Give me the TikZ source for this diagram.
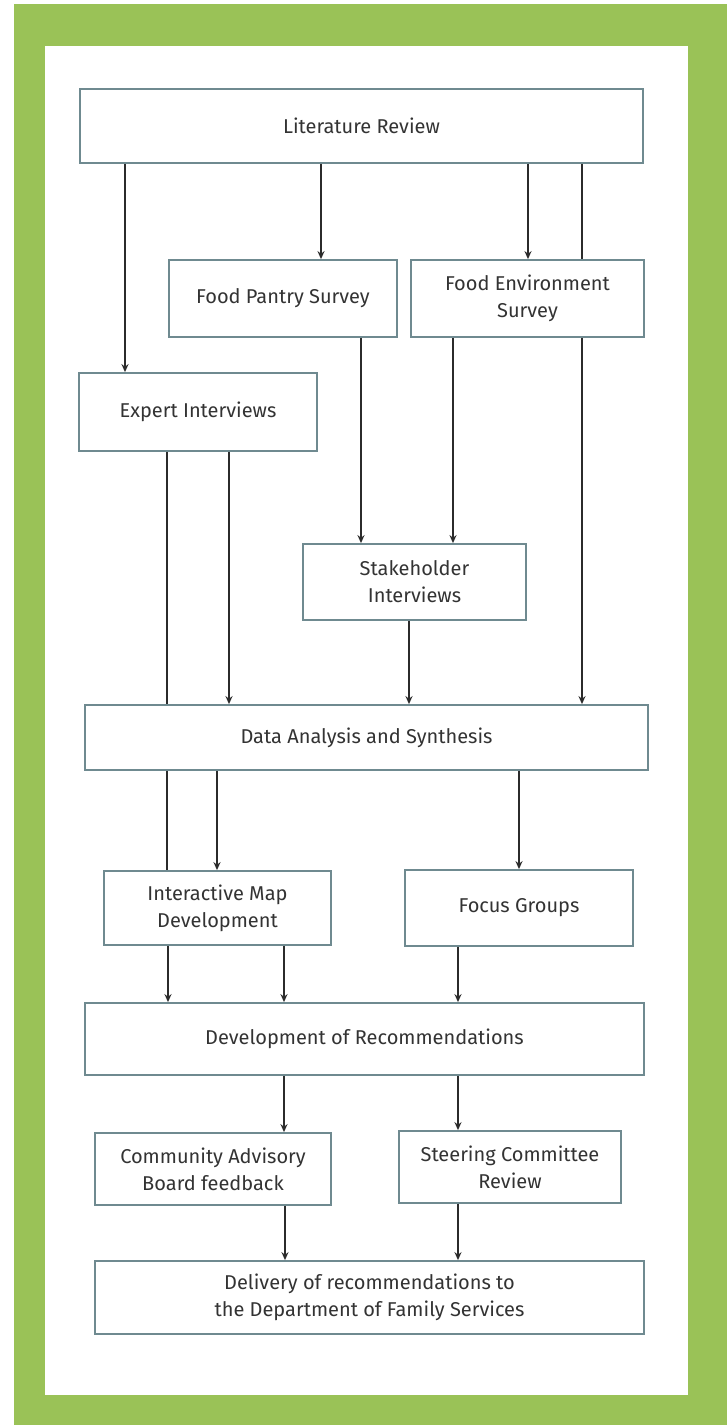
\documentclass[tikz,border=0pt]{standalone}
\usepackage{fontspec}
\setmainfont{Fira Sans}
\usepackage{xcolor}
\definecolor{leaf}{HTML}{9AC257}
\definecolor{frame}{HTML}{6F8A90}
\definecolor{ink}{HTML}{333333}
\definecolor{wire}{HTML}{2B2B2B}
\usepackage{tikz}
\usetikzlibrary{arrows.meta}
\tikzset{
  >={Stealth[length=8pt,width=7pt]},
  stepbox/.style={draw=frame,fill=white,line width=1.8pt,text=ink,
                  font=\fontsize{20}{27}\selectfont,align=center,
                  inner sep=0pt},
  flow/.style   ={->,draw=wire,line width=1.8pt},
  link/.style   ={draw=wire,line width=1.8pt},
}

\begin{document}
\begin{tikzpicture}[x=1pt,y=-1pt]
% frame
\useasboundingbox (0,0) rectangle (727,1425);
\fill[white] (0,0) rectangle (727,1425);
\fill[leaf] (14,4) rectangle (727,1425);
\fill[white] (45,46) rectangle (688,1395);
% boxes
\node[stepbox,minimum width=563pt,minimum height=74pt] (lit)    at (361.5,126)  {Literature Review};
\node[stepbox,minimum width=228pt,minimum height=77pt] (pantry) at (283,298.5)  {Food Pantry Survey};
\node[stepbox,minimum width=233pt,minimum height=77pt] (env)    at (527.5,298.5){Food Environment\\Survey};
\node[stepbox,minimum width=238pt,minimum height=78pt] (expert) at (198,412)    {Expert Interviews};
\node[stepbox,minimum width=223pt,minimum height=76pt] (stake)  at (414.5,582)  {Stakeholder\\Interviews};
\node[stepbox,minimum width=563pt,minimum height=65pt] (data)   at (366.5,737.5){Data Analysis and Synthesis};
\node[stepbox,minimum width=227pt,minimum height=74pt] (map)    at (217.5,908)  {Interactive Map\\Development};
\node[stepbox,minimum width=228pt,minimum height=76pt] (focus)  at (519,908)    {Focus Groups};
\node[stepbox,minimum width=559pt,minimum height=72pt] (recs)   at (364.5,1039) {Development of Recommendations};
\node[stepbox,minimum width=236pt,minimum height=72pt] (cab)    at (213,1169)   {Community Advisory\\Board feedback};
\node[stepbox,minimum width=222pt,minimum height=72pt] (steer)  at (510,1167)   {Steering Committee\\Review};
\node[stepbox,minimum width=549pt,minimum height=73pt] (deliv)  at (369.5,1297.5){Delivery of recommendations to\\the Department of Family Services};
% arrows
\foreach \x/\a/\b in {125/lit/expert, 321/lit/pantry, 528/lit/env, 582/env/data,
                      361/pantry/stake, 453/env/stake, 229/expert/data, 409/stake/data,
                      217/data/map, 519/data/focus, 168/map/recs, 284/map/recs,
                      458/focus/recs, 284/recs/cab, 458/recs/steer,
                      285/cab/deliv, 458/steer/deliv}
  \draw[flow] (\x,0 |- \a.south) -- (\x,0 |- \b.north);
% plain lines
\foreach \x/\a/\b in {582/lit/env, 167/expert/data, 167/data/map}
  \draw[link] (\x,0 |- \a.south) -- (\x,0 |- \b.north);
\end{tikzpicture}
\end{document}
